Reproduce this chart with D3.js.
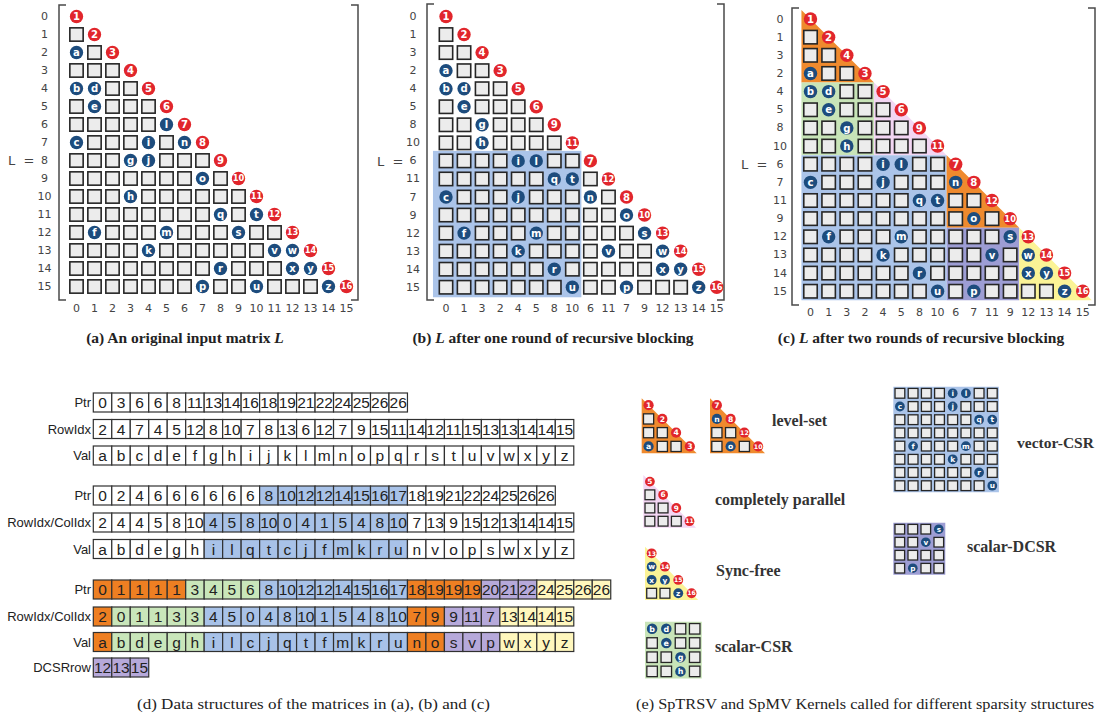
<!DOCTYPE html>
<html lang="en">
    <head>
        <title>Recursive blocking of a sparse triangular matrix</title>
        <script src="https://d3js.org/d3.v7.min.js"></script>
        <style>
            body { margin: 0; background: #fff; }
        </style>
    </head>
    <body>
    <div id="mainDiv"></div>
        <script type="text/javascript">
            const width = 1097
            const height = 719

            // row / column order shown in each panel
            const orderA = d3.range(16)
            const orderB = [0, 1, 3, 2, 4, 5, 8, 10, 6, 11, 7, 9, 12, 13, 14, 15]
            const orderC = [0, 1, 3, 2, 4, 5, 8, 10, 6, 7, 11, 9, 12, 13, 14, 15]

            // off-diagonal nonzeros as drawn: [row position, column position, value]
            const nzA = [[2,0,'a'],[4,0,'b'],[4,1,'d'],[5,1,'e'],[6,5,'l'],[7,0,'c'],[7,4,'i'],[7,6,'n'],
                [8,3,'g'],[8,4,'j'],[9,7,'o'],[10,3,'h'],[11,8,'q'],[11,10,'t'],[12,1,'f'],[12,5,'m'],
                [12,9,'s'],[13,4,'k'],[13,11,'v'],[13,12,'w'],[14,8,'r'],[14,12,'x'],[14,13,'y'],
                [15,7,'p'],[15,10,'u'],[15,14,'z']]
            const nzB = [[3,0,'a'],[4,0,'b'],[4,1,'d'],[5,1,'e'],[6,2,'g'],[7,2,'h'],[8,4,'i'],[8,5,'l'],
                [9,6,'q'],[9,7,'t'],[10,0,'c'],[10,4,'j'],[10,8,'n'],[11,10,'o'],[12,1,'f'],[12,5,'m'],
                [12,11,'s'],[13,4,'k'],[13,9,'v'],[13,12,'w'],[14,6,'r'],[14,12,'x'],[14,13,'y'],
                [15,7,'u'],[15,10,'p'],[15,14,'z']]
            const nzC = [[3,0,'a'],[4,0,'b'],[4,1,'d'],[5,1,'e'],[6,2,'g'],[7,2,'h'],[8,4,'i'],[8,5,'l'],
                [9,0,'c'],[9,4,'j'],[9,8,'n'],[10,6,'q'],[10,7,'t'],[11,9,'o'],[12,1,'f'],[12,5,'m'],
                [12,11,'s'],[13,4,'k'],[13,10,'v'],[13,12,'w'],[14,6,'r'],[14,12,'x'],[14,13,'y'],
                [15,7,'u'],[15,9,'p'],[15,14,'z']]

            // shaded blocks: [shape, first row, end row, first col, end col, kernel]
            const blocksB = [['rect', 8, 16, 0, 8, 'vec']]
            const blocksC = [['tri', 0, 4, 0, 4, 'lvl'], ['rect', 4, 8, 0, 4, 'csr'], ['tri', 4, 8, 4, 8, 'par'],
                ['rect', 8, 16, 0, 8, 'vec'], ['tri', 8, 12, 8, 12, 'lvl'], ['rect', 12, 16, 8, 12, 'dcsr'],
                ['tri', 12, 16, 12, 16, 'sync']]

            // data structures (d)
            const ptrA = [0,3,6,6,8,11,13,14,16,18,19,21,22,24,25,26,26]
            const rowIdxA = [2,4,7,4,5,12,8,10,7,8,13,6,12,7,9,15,11,14,12,11,15,13,13,14,14,15]
            const valA = 'abcdefghijklmnopqrstuvwxyz'.split('')
            const ptrB = [0,2,4,6,6,6,6,6,6,8,10,12,12,14,15,16,17,18,19,21,22,24,25,26,26]
            const idxB = [2,4,4,5,8,10,4,5,8,10,0,4,1,5,4,8,10,7,13,9,15,12,13,14,14,15]
            const valB = 'abdeghilqtcjfmkrunvopswxyz'.split('')
            const ptrC = [0,1,1,1,1,3,4,5,6,8,10,12,12,14,15,16,17,18,19,19,19,20,21,22,24,25,26,26]
            const idxC = [2,0,1,1,3,3,4,5,0,4,8,10,1,5,4,8,10,7,9,9,11,7,13,14,14,15]
            const valC = 'abdeghilcjqtfmkrunosvpwxyz'.split('')
            const dcsrRow = [12, 13, 15]

            // which kernel each run of cells belongs to: [kernel, count]
            const ptrRunsB = [['none', 9], ['vec', 8], ['none', 8]]
            const idxRunsB = [['none', 6], ['vec', 11], ['none', 9]]
            const ptrRunsC = [['lvl', 5], ['csr', 4], ['vec', 8], ['lvl', 4], ['dcsr', 3], ['sync', 4]]
            const idxRunsC = [['lvl', 1], ['csr', 5], ['vec', 11], ['lvl', 2], ['dcsr', 3], ['sync', 4]]

            const kernelNames = {lvl: 'level-set', par: 'completely parallel', sync: 'Sync-free',
                csr: 'scalar-CSR', vec: 'vector-CSR', dcsr: 'scalar-DCSR'}

            const captions = ['(a) An original input matrix ', '(b) ', '(c) ']
            const captionTails = ['', ' after one round of recursive blocking', ' after two rounds of recursive blocking']

            // colours
            const shade = {lvl: '#ef8a2e', csr: '#c8e4b8', par: '#f3d6f3', vec: '#abc4e9', dcsr: '#9d9dd4', sync: '#fbf396'}
            const cellFill = {none: '#ffffff', lvl: '#ee7f22', csr: '#c9e6ba', vec: '#a8c2e8', dcsr: '#b6a9da', sync: '#fff7bd'}
            const redDot = '#e1262c'
            const blueDot = '#1d4c7d'

            const svg = d3.select('#mainDiv').append('svg')
                .attr('width', width)
                .attr('height', height)
                .style('font-family', 'DejaVu Sans, sans-serif')

            const expand = runs => runs.flatMap(([k, n]) => d3.range(n).map(() => k))

            // draw the lower triangle part of a matrix (positions rows x cols)
            function drawCells(g, order, nz, rows, cols, xs, ys) {
                const p = xs.bandwidth()
                const lookup = new Map(nz.map(d => [d[0] + ',' + d[1], d[2]]))
                const cells = []
                d3.range(rows[0], rows[1]).forEach(r => {
                    d3.range(cols[0], cols[1]).forEach(c => {
                        if (c > r) return
                        if (c === r) cells.push({r, c, kind: 'diag', txt: String(order[r] + 1)})
                        else if (lookup.has(r + ',' + c)) cells.push({r, c, kind: 'nz', txt: lookup.get(r + ',' + c)})
                        else cells.push({r, c, kind: 'box'})
                    })
                })
                const box = p * 0.74
                g.selectAll(null)
                    .data(cells.filter(d => d.kind === 'box'))
                    .enter()
                    .append('rect')
                    .attr('x', d => xs(d.c) + (p - box) / 2)
                    .attr('y', d => ys(d.r) + (p - box) / 2)
                    .attr('width', box)
                    .attr('height', box)
                    .attr('fill', '#ececec')
                    .attr('stroke', '#262626')
                    .attr('stroke-width', p > 16 ? 1.6 : 1.3)

                const dots = g.selectAll(null)
                    .data(cells.filter(d => d.kind !== 'box'))
                    .enter()
                    .append('g')
                    .attr('transform', d => `translate(${xs(d.c) + p / 2},${ys(d.r) + p / 2})`)
                dots.append('circle')
                    .attr('r', p * 0.37)
                    .attr('fill', d => d.kind === 'diag' ? redDot : blueDot)
                dots.append('text')
                    .attr('text-anchor', 'middle')
                    .attr('dy', '0.36em')
                    .attr('fill', '#fff')
                    .attr('font-weight', 'bold')
                    .attr('font-size', d => d.txt.length > 1 ? p * 0.46 : p * 0.56)
                    .text(d => d.txt)
            }

            function drawBlock(g, b, xs, ys) {
                const [shape, r0, r1, c0, c1, k] = b
                const x0 = xs(c0), x1 = xs(c1 - 1) + xs.bandwidth()
                const y0 = ys(r0), y1 = ys(r1 - 1) + ys.bandwidth()
                const path = shape === 'tri'
                    ? `M${x0},${y0}L${x1},${y1}L${x0},${y1}Z`
                    : `M${x0},${y0}L${x1},${y0}L${x1},${y1}L${x0},${y1}Z`
                g.append('path').attr('d', path).attr('fill', shade[k])
            }

            // ---- panels (a), (b), (c)
            const panels = [
                {order: orderA, nz: nzA, blocks: [], x0: 76.5, y0: 16.5, p: 18, rowLabelX: 44.5, colLabelY: 308,
                    lx: 8, br: [59, 358, 5, 300], cx: 185},
                {order: orderB, nz: nzB, blocks: blocksB, x0: 446, y0: 16.5, p: 18.05, rowLabelX: 413, colLabelY: 308,
                    lx: 377, br: [427, 724, 4, 300], cx: 553},
                {order: orderC, nz: nzC, blocks: blocksC, x0: 810.5, y0: 19, p: 18.15, rowLabelX: 780, colLabelY: 312,
                    lx: 741, br: [792, 1095, 8, 305], cx: 921}
            ]

            panels.forEach((pn, i) => {
                const g = svg.append('g')
                const xs = d3.scaleBand().domain(d3.range(16))
                    .range([pn.x0 - pn.p / 2, pn.x0 + 15.5 * pn.p])
                const ys = d3.scaleBand().domain(d3.range(16))
                    .range([pn.y0 - pn.p / 2, pn.y0 + 15.5 * pn.p])
                if (i === 1) {
                    // the blue block in (b) reaches a little further left
                    const b = pn.blocks[0]
                    g.append('rect')
                        .attr('x', xs(b[3]) - 4).attr('y', ys(b[1]) - 1)
                        .attr('width', xs(b[4] - 1) + xs.bandwidth() - xs(b[3]) + 4)
                        .attr('height', ys(b[2] - 1) + ys.bandwidth() - ys(b[1]) + 2)
                        .attr('fill', shade[b[5]])
                } else {
                    pn.blocks.forEach(b => drawBlock(g, b, xs, ys))
                }
                drawCells(g, pn.order, pn.nz, [0, 16], [0, 16], xs, ys)

                // brackets
                const [bl, brx, bt, bb] = pn.br
                g.append('path')
                    .attr('d', `M${bl + 7},${bt}H${bl}V${bb}H${bl + 7}M${brx - 7},${bt}H${brx}V${bb}H${brx - 7}`)
                    .attr('fill', 'none').attr('stroke', '#4a4a4a').attr('stroke-width', 1.5)

                // labels
                const colAxis = g.append('g')
                    .attr('transform', `translate(0,${pn.colLabelY})`)
                    .call(d3.axisBottom(xs).tickSize(0).tickFormat(d => pn.order[d]))
                colAxis.select('.domain').remove()
                colAxis.selectAll('text').attr('y', 0).attr('dy', '0.36em')
                    .attr('font-size', 11).attr('font-family', 'DejaVu Sans').attr('fill', '#444')

                const rowAxis = g.append('g')
                    .attr('transform', `translate(${pn.rowLabelX},0)`)
                    .call(d3.axisLeft(ys).tickSize(0).tickFormat(d => pn.order[d]))
                rowAxis.select('.domain').remove()
                rowAxis.selectAll('text').attr('x', 0).attr('text-anchor', 'middle')
                    .attr('font-size', 11).attr('font-family', 'DejaVu Sans').attr('fill', '#444')

                g.append('text')
                    .attr('x', pn.lx).attr('y', ys(8) + pn.p / 2).attr('dy', '0.36em')
                    .attr('font-size', 13).attr('fill', '#444')
                    .attr('xml:space', 'preserve')
                    .text('L  =')

                const cap = g.append('text')
                    .attr('x', pn.cx).attr('y', 343)
                    .attr('text-anchor', 'middle')
                    .attr('font-family', 'Liberation Serif, serif')
                    .attr('font-weight', 'bold')
                    .attr('font-size', 15.5)
                    .attr('fill', '#222')
                cap.append('tspan').text(captions[i])
                cap.append('tspan').attr('font-style', 'italic').text('L')
                cap.append('tspan').text(captionTails[i])
            })

            // ---- data structures (d)
            const cellX = d3.scaleBand().domain(d3.range(28)).range([93.3, 93.3 + 28 * 18.48])
            const tableRows = [
                {label: 'Ptr', vals: ptrA, keys: null, y: 402.5},
                {label: 'RowIdx', vals: rowIdxA, keys: null, y: 429},
                {label: 'Val', vals: valA, keys: null, y: 455.5},
                {label: 'Ptr', vals: ptrB, keys: expand(ptrRunsB), y: 495.5},
                {label: 'RowIdx/ColIdx', vals: idxB, keys: expand(idxRunsB), y: 522.5},
                {label: 'Val', vals: valB, keys: expand(idxRunsB), y: 549},
                {label: 'Ptr', vals: ptrC, keys: expand(ptrRunsC), y: 589.5},
                {label: 'RowIdx/ColIdx', vals: idxC, keys: expand(idxRunsC), y: 616.5},
                {label: 'Val', vals: valC, keys: expand(idxRunsC), y: 642},
                {label: 'DCSRrow', vals: dcsrRow, keys: expand([['dcsr', 3]]), y: 667.5}
            ]
            const cellH = 19
            tableRows.forEach(row => {
                const g = svg.append('g')
                g.append('text')
                    .attr('x', 91).attr('y', row.y).attr('dy', '0.36em')
                    .attr('text-anchor', 'end')
                    .attr('font-family', 'Liberation Sans, Arial, sans-serif')
                    .attr('font-size', 13).attr('fill', '#222')
                    .text(row.label)
                const cells = g.selectAll('g')
                    .data(row.vals)
                    .enter()
                    .append('g')
                    .attr('transform', (d, j) => `translate(${cellX(j)},${row.y - cellH / 2})`)
                cells.append('rect')
                    .attr('width', cellX.bandwidth())
                    .attr('height', cellH)
                    .attr('fill', (d, j) => cellFill[row.keys ? row.keys[j] : 'none'])
                    .attr('stroke', '#303030')
                    .attr('stroke-width', 1.2)
                cells.append('text')
                    .attr('x', cellX.bandwidth() / 2)
                    .attr('y', cellH / 2)
                    .attr('dy', '0.36em')
                    .attr('text-anchor', 'middle')
                    .attr('font-family', 'Liberation Sans, Arial, sans-serif')
                    .attr('font-size', 15.5)
                    .attr('fill', '#222')
                    .text(d => d)
            })

            // ---- legend (e): sub-blocks of panel (c)
            const legendItems = [
                {block: 0, x: 641.7, y: 398.3, p: 13.75},
                {block: 4, x: 710, y: 398.3, p: 13.75},
                {block: 2, x: 643.3, y: 475, p: 13.2},
                {block: 6, x: 645, y: 546.7, p: 13.3},
                {block: 1, x: 645, y: 621.7, p: 14.2},
                {block: 3, x: 893.3, y: 386.7, p: 13.2},
                {block: 5, x: 893.3, y: 522.7, p: 13}
            ]
            legendItems.forEach(it => {
                const [shape, r0, r1, c0, c1] = blocksC[it.block]
                const g = svg.append('g')
                const xs = d3.scaleBand().domain(d3.range(c0, c1)).range([it.x, it.x + (c1 - c0) * it.p])
                const ys = d3.scaleBand().domain(d3.range(r0, r1)).range([it.y, it.y + (r1 - r0) * it.p])
                drawBlock(g, blocksC[it.block], xs, ys)
                drawCells(g, orderC, nzC, [r0, r1], [c0, c1], xs, ys)
            })

            const legendText = [
                {k: 'lvl', x: 772, y: 426, s: 16},
                {k: 'par', x: 715, y: 505, s: 16},
                {k: 'sync', x: 716, y: 576, s: 16},
                {k: 'csr', x: 715, y: 652, s: 16},
                {k: 'vec', x: 1017, y: 448, s: 15.5},
                {k: 'dcsr', x: 967, y: 552, s: 16}
            ]
            svg.append('g').selectAll('text')
                .data(legendText)
                .enter()
                .append('text')
                .attr('x', d => d.x).attr('y', d => d.y)
                .attr('font-family', 'Liberation Serif, serif')
                .attr('font-weight', 'bold')
                .attr('font-size', d => d.s)
                .attr('fill', '#333')
                .text(d => kernelNames[d.k])

            // bottom captions
            svg.append('text')
                .attr('x', 137).attr('y', 709)
                .attr('font-family', 'Liberation Serif, serif')
                .attr('font-size', 14.5).attr('fill', '#222')
                .attr('textLength', 353).attr('lengthAdjust', 'spacingAndGlyphs')
                .text('(d) Data structures of the matrices in (a), (b) and (c)')
            svg.append('text')
                .attr('x', 636).attr('y', 709)
                .attr('font-family', 'Liberation Serif, serif')
                .attr('font-size', 14.5).attr('fill', '#222')
                .attr('textLength', 458).attr('lengthAdjust', 'spacingAndGlyphs')
                .text('(e) SpTRSV and SpMV Kernels called for different sparsity structures')
        </script>
    </body>
</html>
